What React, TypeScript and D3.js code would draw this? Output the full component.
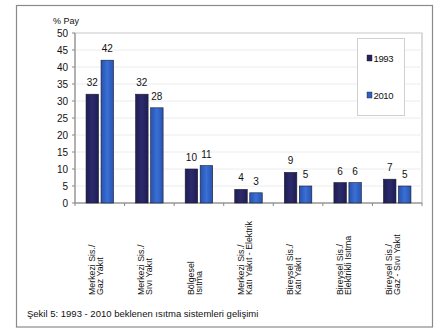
import React from "react";
import * as d3 from "d3";

const categories: string[][] = [
  ["Merkezi Sis./", "Gaz Yakıt"],
  ["Merkezi Sis./", "Sıvı Yakıt"],
  ["Bölgesel", "Isıtma"],
  ["Merkezi Sis./", "Katı Yakıt - Elektrik"],
  ["Bireysel Sis./", "Katı Yakıt"],
  ["Bireysel Sis./", "Elektrikli Isıtma"],
  ["Bireysel Sis./", "Gaz - Sıvı Yakıt"],
];
const values1993 = [32, 32, 10, 4, 9, 6, 7];
const values2010 = [42, 28, 11, 3, 5, 6, 5];
const seriesNames = ["1993", "2010"];
const yTicks = [0, 5, 10, 15, 20, 25, 30, 35, 40, 45, 50];
const yTitle = "% Pay";
const caption = "Şekil 5: 1993 - 2010 beklenen ısıtma sistemleri gelişimi";

const W = 439;
const H = 329;
const FONT = "'Liberation Sans', Arial, sans-serif";
const COLORS = ["#25235e", "#2f5fc2"];

export default function App() {
  const plotL = 75, plotR = 422, plotT = 33, plotB = 203;
  const x = d3.scaleBand<number>().domain(d3.range(categories.length)).range([plotL, plotR]).padding(0);
  const y = d3.scaleLinear().domain([0, 50]).range([plotB, plotT]);
  const barW = 12.5;
  const gap = 2.5;
  const series = [values1993, values2010];

  return (
    <div style={{ position: "absolute", left: 0, top: 0 }}>
      <svg width={W} height={H} style={{ display: "block" }} fontFamily={FONT}>
        <defs>
          <linearGradient id="g2010" x1="0" x2="1" y1="0" y2="0">
            <stop offset="0" stopColor="#2653b0" />
            <stop offset="0.5" stopColor="#3a6fd4" />
            <stop offset="1" stopColor="#2653b0" />
          </linearGradient>
          <linearGradient id="g1993" x1="0" x2="1" y1="0" y2="0">
            <stop offset="0" stopColor="#1f1d52" />
            <stop offset="0.5" stopColor="#2c2a6c" />
            <stop offset="1" stopColor="#1f1d52" />
          </linearGradient>
        </defs>
        <rect x={0} y={0} width={W} height={H} fill="#ffffff" />
        <rect x={16.5} y={5.5} width={416} height={321.5} fill="none" stroke="#8a8a8a" strokeWidth={1.2} />
        {/* plot area */}
        <rect x={plotL} y={plotT} width={plotR - plotL} height={plotB - plotT} fill="none" stroke="#b5b5b5" strokeWidth={1} />
        {yTicks.filter(t => t > 0).map(t => (
          <line key={"g" + t} x1={plotL} x2={plotR} y1={y(t)} y2={y(t)} stroke="#ececec" strokeWidth={1} />
        ))}
        {/* y axis */}
        <line x1={plotL} x2={plotL} y1={plotT} y2={plotB} stroke="#888" strokeWidth={1} />
        {yTicks.map(t => (
          <g key={"y" + t}>
            <line x1={plotL - 3} x2={plotL} y1={y(t)} y2={y(t)} stroke="#888" />
            <text x={68} y={y(t) + 3.5} fontSize={10} textAnchor="end" fill="#111">{t}</text>
          </g>
        ))}
        <text x={53} y={24} fontSize={9} fill="#111">{yTitle}</text>
        {/* x axis */}
        <line x1={plotL} x2={plotR} y1={plotB} y2={plotB} stroke="#888" strokeWidth={1} />
        {d3.range(categories.length + 1).map(i => {
          const xx = plotL + i * x.bandwidth();
          return <line key={"xt" + i} x1={xx} x2={xx} y1={plotB} y2={plotB + 3} stroke="#888" />;
        })}
        {/* bars */}
        {series.map((vals, si) =>
          vals.map((v, i) => {
            const cx = (x(i) as number) + x.bandwidth() / 2;
            const bx = si === 0 ? cx - gap / 2 - barW : cx + gap / 2;
            return (
              <g key={`b${si}-${i}`}>
                <rect x={bx} y={y(v)} width={barW} height={plotB - y(v)} fill={`url(#g${seriesNames[si]})`} stroke="#1a1a2a" strokeWidth={0.6} />
                <text x={bx + barW / 2} y={y(v) - 8} fontSize={10} textAnchor="middle" fill="#111">{v}</text>
              </g>
            );
          })
        )}
        {/* category labels */}
        {categories.map((lines, i) => {
          const cx = (x(i) as number) + x.bandwidth() / 2;
          return (
            <text key={"c" + i} transform={`translate(${cx},295) rotate(-90)`} fontSize={8.8} fill="#111">
              {lines.map((l, j) => (
                <tspan key={j} x={0} y={j === 0 ? -5 : 3}>{l}</tspan>
              ))}
            </text>
          );
        })}
        {/* legend */}
        <rect x={357.5} y={38.5} width={47} height={77} fill="#fff" stroke="#d0d0d0" strokeWidth={1} />
        {seriesNames.map((name, si) => {
          const ly = si === 0 ? 58 : 95;
          return (
            <g key={"l" + si}>
              <rect x={367} y={ly - 3} width={5} height={6} fill={COLORS[si]} stroke="#1a1a2a" strokeWidth={0.4} />
              <text x={373.5} y={ly + 3.5} fontSize={9.5} fill="#111" letterSpacing={-0.4}>{name}</text>
            </g>
          );
        })}
        <text x={27} y={317} fontSize={9.5} fill="#111">{caption}</text>
      </svg>
    </div>
  );
}
